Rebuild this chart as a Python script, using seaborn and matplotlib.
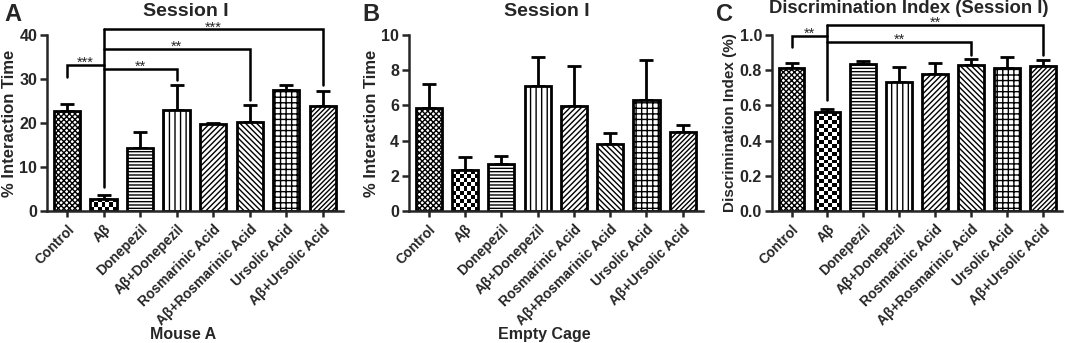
import numpy as np
import matplotlib
matplotlib.use('Agg')
import matplotlib.pyplot as plt
import seaborn as sns

sns.set_style('ticks')
plt.rcParams['font.family'] = ['Liberation Sans', 'DejaVu Sans']
plt.rcParams['font.weight'] = 'bold'
plt.rcParams['axes.labelweight'] = 'bold'
plt.rcParams['axes.titleweight'] = 'bold'
plt.rcParams['hatch.linewidth'] = 1.0

# groups shared by all three panels
groups = ['Control', 'Aβ', 'Donepezil', 'Aβ+Donepezil', 'Rosmarinic Acid',
          'Aβ+Rosmarinic Acid', 'Ursolic Acid', 'Aβ+Ursolic Acid']
# Aβ bar gets a checkerboard instead of a hatch
hatches = ['xxxxxx', None, '-----', '|||', '//////', '\\\\\\\\\\\\', '+++', '///////']

# panel A - Mouse A
mouse_a_mean = [22.7, 2.8, 14.4, 23.0, 19.7, 20.3, 27.4, 23.8]
mouse_a_sem = [1.7, 0.8, 3.5, 5.6, 0.4, 3.7, 1.2, 3.4]
# (other group, bracket height, leg bottom, label) - bracket always joins Aβ
mouse_a_sig = [(0, 33.2, 30.5, '***'), (3, 32.3, 29.8, '**'),
               (5, 36.8, 25.2, '**'), (7, 41.3, 28.6, '***')]
mouse_a_stem = 5.5

# panel B - Empty cage
cage_mean = [5.83, 2.30, 2.69, 7.08, 5.96, 3.80, 6.30, 4.48]
cage_sem = [1.36, 0.75, 0.42, 1.69, 2.26, 0.64, 2.26, 0.43]

# panel C - Discrimination index
di_mean = [0.814, 0.562, 0.833, 0.732, 0.780, 0.831, 0.814, 0.822]
di_sem = [0.025, 0.017, 0.021, 0.086, 0.059, 0.030, 0.063, 0.036]
di_sig = [(0, 0.996, 0.934, '**'), (5, 0.962, 0.886, '**'), (7, 1.057, 0.886, '**')]
di_stem = 0.63

fig = plt.figure(figsize=(10.72, 3.43), dpi=100)
ax_a = fig.add_axes([0.0438, 0.385, 0.276, 0.513])
ax_b = fig.add_axes([0.3815, 0.385, 0.274, 0.513])
ax_c = fig.add_axes([0.720, 0.385, 0.271, 0.513])


def checker(ax, bar, cell=4.0):
    # fill a bar with a black/white checkerboard of ~cell px squares
    ext = bar.get_window_extent(fig.canvas.get_renderer())
    nx = max(1, int(round(ext.width / cell)))
    ny = max(1, int(round(ext.height / cell)))
    board = (np.add.outer(np.arange(ny), np.arange(nx)) % 2).astype(float)
    x0, y0 = bar.get_x(), bar.get_y()
    x1, y1 = x0 + bar.get_width(), y0 + bar.get_height()
    im = ax.imshow(board, cmap='gray', extent=(x0, x1, y0, y1), aspect='auto',
                   interpolation='nearest', origin='lower', zorder=1.5)
    im.set_clip_path(bar)


def draw_panel(ax, mean, sem, ymax, step, ylabel, ysize, xlabel, title, tsize,
               ty, fmt):
    sns.barplot(x=groups, y=mean, ax=ax, color='white', edgecolor='black',
                linewidth=2, width=0.72, errorbar=None, zorder=2)
    ax.errorbar(range(len(groups)), mean, yerr=[np.zeros(len(sem)), sem],
                fmt='none', ecolor='black', elinewidth=2, capsize=5,
                capthick=2, zorder=1)
    ax.set_ylim(0, ymax)
    ax.set_xlim(-0.55, 7.55)
    for bar, h in zip(list(ax.patches), hatches):
        if h is None:
            bar.set_facecolor('none')
            checker(ax, bar)
        else:
            bar.set_hatch(h)
    ax.set_ylim(0, ymax)
    ax.set_xlim(-0.55, 7.55)
    ax.set_yticks(np.arange(0, ymax + step / 2, step))
    ax.yaxis.set_major_formatter(matplotlib.ticker.FormatStrFormatter(fmt))
    ax.set_xticks(range(len(groups)))
    ax.set_xticklabels(groups, rotation=45, ha='right', rotation_mode='anchor',
                       fontsize=10)
    ax.tick_params(axis='y', labelsize=11.5, width=1.8, length=5, pad=2)
    ax.tick_params(axis='x', width=1.8, length=4, pad=4)
    for s in ['left', 'bottom']:
        ax.spines[s].set_linewidth(1.8)
    sns.despine(ax=ax)
    ax.set_ylabel(ylabel, fontsize=ysize, labelpad=2)
    ax.set_xlabel(xlabel, fontsize=11.5)
    ax.xaxis.set_label_coords(0.46, -0.66)
    ax.text(0.47, ty, title, transform=ax.transAxes, ha='center',
            va='baseline', fontsize=tsize, fontweight='bold')


def draw_sig(ax, sig, stem):
    top = max(s[1] for s in sig)
    ax.plot([1, 1], [stem, top], color='black', lw=1.8, clip_on=False, zorder=3)
    for other, h, leg, label in sig:
        ax.plot([other, other, 1], [leg, h, h], color='black', lw=1.8,
                clip_on=False, zorder=3, solid_joinstyle='miter')
        ax.annotate(label, xy=((other + 1) / 2, h), xytext=(0, -1.5),
                    textcoords='offset points', ha='center', va='baseline',
                    fontsize=10.5, fontweight='normal', annotation_clip=False)


draw_panel(ax_a, mouse_a_mean, mouse_a_sem, 40, 10, '% Interaction Time', 12,
           'Mouse A', 'Session I', 14, 1.108, '%d')
draw_sig(ax_a, mouse_a_sig, mouse_a_stem)
draw_panel(ax_b, cage_mean, cage_sem, 10, 2, '% Interaction Time', 12,
           'Empty Cage', 'Session I', 14, 1.108, '%d')
draw_panel(ax_c, di_mean, di_sem, 1.0, 0.2, 'Discrimination Index (%)', 11,
           '', 'Discrimination Index (Session I)', 13.3, 1.125, '%.1f')
draw_sig(ax_c, di_sig, di_stem)

for x, letter in [(0.004, 'A'), (0.338, 'B'), (0.668, 'C')]:
    fig.text(x, 0.992, letter, fontsize=17, fontweight='bold', va='top')

fig.savefig('out.png', dpi=100)
